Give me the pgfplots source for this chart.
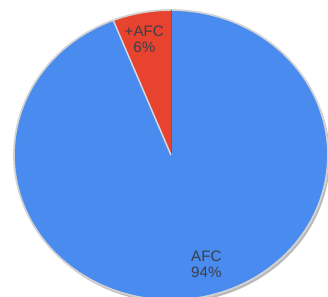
\documentclass[border=0pt]{standalone}
\usepackage{pgfplots}
\pgfplotsset{compat=1.18}
\usepackage{fontspec}
\setmainfont{Liberation Sans}
\definecolor{pieblue}{HTML}{4A8BEF}
\definecolor{piered}{HTML}{E8432F}
\definecolor{labelgray}{HTML}{3A3F4A}
% data: share of +AFC and AFC in percent
\def\valRed{6}
\def\valBlue{94}
\pgfmathsetmacro{\aStart}{90}
\pgfmathsetmacro{\aMid}{90+\valRed*3.6}
\pgfmathsetmacro{\aEnd}{\aMid+\valBlue*3.6}
\begin{document}
\begin{tikzpicture}
\useasboundingbox (0,0) rectangle (8cm,7.2195cm);
\begin{axis}[at={(0,0)}, anchor=south west, scale only axis, width=8cm, height=7.2195cm,
  xmin=-1.089, xmax=1.0, ymin=-0.972, ymax=1.069, hide axis, clip=true]
% shadow
\addplot[fill=gray!55, draw=none, domain=0:360, samples=200] ({0.012+cos(x)},{-0.018+sin(x)}) -- cycle;
% AFC slice
\addplot[fill=pieblue, draw=none, domain=\aMid:\aEnd, samples=200] ({cos(x)},{sin(x)}) -- (0,0) -- cycle;
% +AFC slice
\addplot[fill=piered, draw=none, domain=\aStart:\aMid, samples=30] ({cos(x)},{sin(x)}) -- (0,0) -- cycle;
% rim
\addplot[draw=gray!35, line width=1.2pt, domain=0:360, samples=200] ({cos(x)},{sin(x)});
% slice edges
\addplot[draw=gray!75!black, line width=0.6pt] coordinates {(0,0) (0,1)};
\addplot[draw=gray!30, line width=1pt] coordinates {(0,0) ({cos(\aMid)},{sin(\aMid)})};
\node[align=center, font=\fontsize{10.5}{11}\selectfont, text=labelgray] at (axis cs:-0.17,0.80) {+AFC\\6\%};
\node[align=center, font=\fontsize{10.5}{11}\selectfont, text=labelgray] at (axis cs:0.225,-0.755) {AFC\\94\%};
\end{axis}
\end{tikzpicture}
\end{document}
